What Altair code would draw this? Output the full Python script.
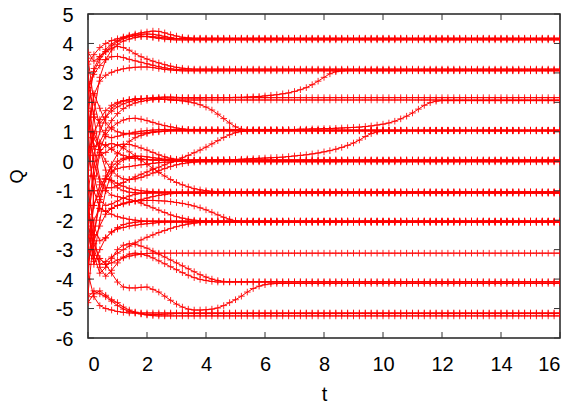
import altair as alt
import pandas as pd

# sample grid of the trajectories (markers every 0.2 in t)
t_step = 0.2
n_pts = 81
t_grid = [round(i * t_step, 1) for i in range(n_pts)]

x_ticks = [0, 2, 4, 6, 8, 10, 12, 14, 16]
y_ticks = [-6, -5, -4, -3, -2, -1, 0, 1, 2, 3, 4, 5]

# Q values at t = 0, 0.2, 0.4, ... ; each series then stays on its last value
A1 = [3.3, 3.62, 3.86, 4.0, 4.1, 4.16, 4.22, 4.28, 4.32, 4.36, 4.39, 4.42, 4.41, 4.36, 4.3, 4.25, 4.21, 4.19, 4.18]
A2 = [2.5, 3.05, 3.45, 3.72, 3.92, 4.06, 4.16, 4.23, 4.28, 4.31, 4.32, 4.31, 4.28, 4.24, 4.2, 4.17, 4.16, 4.15]
A3 = [1.8, 3.15, 3.55, 3.8, 3.98, 4.1, 4.19, 4.24, 4.26, 4.25, 4.23, 4.2, 4.17, 4.15, 4.13, 4.12]
A4 = [-0.5, 1.6, 2.85, 3.45, 3.78, 3.97, 4.08, 4.15, 4.2, 4.23, 4.24, 4.23, 4.21, 4.19, 4.17, 4.16]

B1 = [3.7, 3.4, 3.55, 3.72, 3.84, 3.9, 3.86, 3.77, 3.65, 3.55, 3.47, 3.4, 3.34, 3.28, 3.23, 3.19, 3.16, 3.14, 3.13]
B2 = [2.4, 2.95, 3.25, 3.45, 3.55, 3.56, 3.52, 3.46, 3.41, 3.36, 3.31, 3.26, 3.21, 3.17, 3.14, 3.12, 3.11, 3.1]
B3 = [1.0, 2.25, 2.72, 2.92, 3.02, 3.09, 3.14, 3.17, 3.19, 3.2, 3.2, 3.18, 3.15, 3.12, 3.1, 3.08, 3.07]

C1 = [2.7, 1.5, 1.3, 1.5, 1.7, 1.85, 1.95, 2.02, 2.07, 2.11, 2.14, 2.16, 2.17, 2.18, 2.18, 2.17, 2.16]
C2 = [1.7, 0.5, 0.65, 1.05, 1.38, 1.62, 1.79, 1.9, 1.98, 2.03, 2.07, 2.09, 2.1, 2.1, 2.09, 2.08]
C3 = [0.3, 0.95, 1.42, 1.72, 1.9, 2.0, 2.06, 2.09, 2.11, 2.12, 2.13, 2.14, 2.14, 2.15, 2.15, 2.15,
      2.15, 2.15, 2.15, 2.15, 2.16, 2.16, 2.16, 2.16, 2.16, 2.17, 2.17, 2.18, 2.19, 2.2, 2.22,
      2.24, 2.26, 2.29, 2.32, 2.37, 2.43, 2.5, 2.6, 2.72, 2.85, 2.97, 3.04, 3.07, 3.08]
C4 = [-1.0, 0.2, 1.0, 1.5, 1.8, 1.95, 2.04, 2.09, 2.12, 2.13, 2.13, 2.12, 2.11, 2.1, 2.08, 2.07,
      2.05, 2.02, 1.98, 1.92, 1.84, 1.74, 1.6, 1.45, 1.3, 1.17, 1.09, 1.06, 1.05]

D1 = [-2.0, -0.5, 0.4, 0.9, 1.15, 1.3, 1.4, 1.45, 1.46, 1.43, 1.38, 1.32, 1.26, 1.21, 1.17, 1.13, 1.1, 1.08, 1.07, 1.06]
D2 = [0.8, 2.3, 1.8, 1.3, 1.1, 1.0, 0.95, 0.93, 0.93, 0.95, 0.97, 1.0, 1.02, 1.03, 1.04]
D3 = [-3.5, -2.5, -1.4, -0.6, -0.1, 0.25, 0.5, 0.68, 0.8, 0.88, 0.94, 0.98, 1.0, 1.02, 1.03]
D4 = [2.5, 0.5, -0.6, -0.9, -0.9, -0.82, -0.72, -0.62, -0.53, -0.44, -0.36, -0.28, -0.2, -0.12, -0.04, 0.04,
      0.12, 0.2, 0.29, 0.38, 0.48, 0.59, 0.7, 0.81, 0.9, 0.97, 1.01, 1.03, 1.04]
D5 = [-1.8, -0.2, 0.6, 0.55, 0.4, 0.28, 0.2, 0.14, 0.1, 0.07, 0.05, 0.04, 0.03, 0.03, 0.03, 0.03,
      0.03, 0.03, 0.03, 0.04, 0.04, 0.04, 0.05, 0.05, 0.06, 0.06, 0.07, 0.08, 0.09, 0.1, 0.11,
      0.12, 0.13, 0.14, 0.16, 0.18, 0.2, 0.22, 0.25, 0.28, 0.32, 0.36, 0.41, 0.47, 0.54, 0.62,
      0.72, 0.84, 0.94, 1.0, 1.03, 1.04]
D6 = ([3.5, 2.0, 1.2, 0.85, 0.8, 0.85, 0.9, 0.95, 0.99, 1.02, 1.04, 1.06, 1.07, 1.08]
      + [1.08] * 22
      + [1.09, 1.09, 1.1, 1.1, 1.11, 1.11, 1.12, 1.13, 1.14, 1.15, 1.16, 1.18, 1.2, 1.23, 1.26,
         1.3, 1.36, 1.44, 1.53, 1.64, 1.77, 1.9, 1.99, 2.04, 2.06])

E1 = [1.2, -1.5, -1.0, -0.5, -0.2, 0.0, 0.1, 0.15, 0.17, 0.17, 0.15, 0.12, 0.1, 0.07, 0.05, 0.03, 0.02]
E2 = [-4.5, -2.5, -1.2, -0.6, -0.35, -0.25, -0.2, -0.18, -0.15, -0.12, -0.1, -0.07, -0.05, -0.03, -0.02, -0.01, 0.0]
E3 = [3.0, 1.5, 0.2, 0.3, 0.45, 0.55, 0.58, 0.57, 0.52, 0.45, 0.38, 0.3, 0.22, 0.15, 0.1, 0.07, 0.05, 0.03]
E4 = [0.2, 0.8, 0.4, 0.0, -0.3, -0.5, -0.6, -0.62, -0.6, -0.55, -0.48, -0.4, -0.32, -0.25, -0.18, -0.12, -0.08, -0.05, -0.03, -0.02]
E5 = [-2.5, -3.3, -2.0, -1.0, -0.4, -0.1, 0.05, 0.1, 0.1, 0.08, 0.06, 0.05]

F1 = [-0.3, 1.0, 0.4, -0.3, -0.7, -0.9, -1.0, -1.05, -1.07, -1.08]
F2 = [-3.0, -1.5, -0.8, -0.6, -0.65, -0.75, -0.85, -0.92, -0.97, -1.0, -1.02, -1.03, -1.04]
F3 = [-1.5, -2.7, -2.2, -1.8, -1.6, -1.5, -1.45, -1.4, -1.35, -1.3, -1.25, -1.2, -1.16, -1.13, -1.1, -1.09, -1.08]
F4 = [2.0, -0.5, -1.3, -1.5, -1.45, -1.35, -1.25, -1.18, -1.12, -1.09, -1.07, -1.06]
F5 = [-4.0, -1.0, 0.3, 0.55, 0.6, 0.55, 0.45, 0.32, 0.18, 0.04, -0.1, -0.24, -0.38, -0.5, -0.62, -0.72,
      -0.8, -0.87, -0.93, -0.97, -1.0, -1.02, -1.03, -1.04]

G1 = [0.5, -1.0, -1.6, -1.7, -1.6, -1.5, -1.42, -1.38, -1.35, -1.34, -1.33, -1.33, -1.34, -1.35, -1.37, -1.4,
      -1.43, -1.47, -1.52, -1.58, -1.65, -1.73, -1.82, -1.9, -1.97, -2.02, -2.05, -2.06]
G2 = [-2.0, -3.5, -3.0, -2.6, -2.4, -2.3, -2.25, -2.2, -2.17, -2.14, -2.12, -2.1, -2.08, -2.07]
G3 = [-1.0, -2.2, -2.7, -2.6, -2.4, -2.25, -2.15, -2.1, -2.07, -2.05, -2.04]
G4 = [-3.5, -2.0, -1.6, -1.7, -1.8, -1.88, -1.93, -1.97, -2.0, -2.02, -2.03]
G5 = [1.5, 0.0, -0.7, -1.0, -1.15, -1.2, -1.25, -1.3, -1.35, -1.42, -1.5, -1.58, -1.66, -1.74, -1.82, -1.88,
      -1.93, -1.97, -2.0, -2.02, -2.03]
G6 = [-1.5, -3.0, -3.5, -3.4, -3.25, -3.12, -3.0, -2.88, -2.77, -2.67, -2.58, -2.5, -2.42, -2.35, -2.28, -2.22,
      -2.17, -2.13, -2.1, -2.08, -2.07]

H1 = [-2.2, -2.8, -3.3, -3.5, -3.45, -3.35, -3.28, -3.22, -3.18, -3.15, -3.13, -3.12]

I1 = [-1.5, -3.2, -3.8, -3.6, -3.3, -3.0, -2.85, -2.8, -2.82, -2.88, -2.95, -3.05, -3.15, -3.25, -3.35, -3.45,
      -3.55, -3.65, -3.75, -3.85, -3.93, -4.0, -4.05, -4.08, -4.09]
I2 = [-0.5, -2.5, -3.6, -3.9, -3.7, -3.45, -3.25, -3.15, -3.12, -3.14, -3.2, -3.28, -3.38, -3.48, -3.58, -3.68,
      -3.78, -3.87, -3.95, -4.01, -4.05, -4.08, -4.1]
I3 = [-3.0, -3.4, -3.3, -3.5, -3.8, -4.1, -4.27, -4.3, -4.3, -4.28, -4.27, -4.35, -4.44, -4.58, -4.72, -4.85,
      -4.95, -5.02, -5.05, -5.05, -5.04, -5.02, -4.98, -4.9, -4.8, -4.7, -4.58, -4.44, -4.32, -4.24, -4.19,
      -4.16, -4.15]

J1 = [-4.6, -4.4, -4.5, -4.6, -4.75, -4.9, -5.02, -5.1, -5.15, -5.18, -5.2, -5.2, -5.2, -5.19, -5.18, -5.17]
J2 = [-4.8, -4.5, -4.4, -4.55, -4.7, -4.8, -4.95, -5.05, -5.12, -5.18, -5.22, -5.24, -5.25, -5.25]
J3 = [-3.8, -4.6, -4.9, -5.0, -5.05, -5.1, -5.13, -5.15, -5.15]

series = {
    "A1": A1, "A2": A2, "A3": A3, "A4": A4,
    "B1": B1, "B2": B2, "B3": B3,
    "C1": C1, "C2": C2, "C3": C3, "C4": C4,
    "D1": D1, "D2": D2, "D3": D3, "D4": D4, "D5": D5, "D6": D6,
    "E1": E1, "E2": E2, "E3": E3, "E4": E4, "E5": E5,
    "F1": F1, "F2": F2, "F3": F3, "F4": F4, "F5": F5,
    "G1": G1, "G2": G2, "G3": G3, "G4": G4, "G5": G5, "G6": G6,
    "H1": H1,
    "I1": I1, "I2": I2, "I3": I3,
    "J1": J1, "J2": J2, "J3": J3,
}

rows = []
for name, vals in series.items():
    full = list(vals) + [vals[-1]] * (n_pts - len(vals))
    for t, q in zip(t_grid, full):
        rows.append({"curve": name, "t": t, "Q": q})
df = pd.DataFrame(rows)

W, H = 472, 324
FONT = "Liberation Sans"

xscale = alt.Scale(domain=[0, 16], nice=False, zero=False)
yscale = alt.Scale(domain=[-6, 5], nice=False, zero=False)

x_axis = alt.Axis(values=x_ticks, ticks=False, tickSize=0, domain=False, grid=False,
                  labelExpr="'' + datum.value",
                  labelFont=FONT, labelFontSize=20, labelColor="black", labelPadding=16,
                  titleFont=FONT, titleFontSize=20, titleFontWeight="normal", titleColor="black",
                  titleBaseline="middle", titleX=W / 2, titleY=56)
y_axis = alt.Axis(values=y_ticks, ticks=False, tickSize=0, domain=False, grid=False,
                  labelExpr="'' + datum.value",
                  labelFont=FONT, labelFontSize=20, labelColor="black", labelPadding=15,
                  labelOffset=1,
                  titleFont=FONT, titleFontSize=18, titleFontWeight="normal", titleColor="black",
                  titleAngle=-90, titleBaseline="middle", titleAlign="center",
                  titleX=-71, titleY=H / 2)

x_enc = alt.X("t:Q", scale=xscale, title="t", axis=x_axis)
y_enc = alt.Y("Q:Q", scale=yscale, title="Q", axis=y_axis)

base = alt.Chart(df)
lines = base.mark_line(color="#ff0000", strokeWidth=1, clip=True).encode(
    x=x_enc, y=y_enc, detail="curve:N")
points = base.mark_point(shape="M-1,0L1,0M0,-1L0,1", size=44, color="#ff0000",
                         strokeWidth=1, filled=False, opacity=0.85, clip=True).encode(
    x=x_enc, y=y_enc)

xt = pd.DataFrame({"t": x_ticks})
yt = pd.DataFrame({"Q": y_ticks})
tick_color = "#333333"
xt_bottom = alt.Chart(xt).mark_rule(color=tick_color, strokeWidth=1).encode(
    x=x_enc, y=alt.value(H), y2=alt.value(H - 6))
xt_top = alt.Chart(xt).mark_rule(color=tick_color, strokeWidth=1).encode(
    x=x_enc, y=alt.value(0), y2=alt.value(6))
yt_left = alt.Chart(yt).mark_rule(color=tick_color, strokeWidth=1).encode(
    y=y_enc, x=alt.value(0), x2=alt.value(6))
yt_right = alt.Chart(yt).mark_rule(color=tick_color, strokeWidth=1).encode(
    y=y_enc, x=alt.value(W - 6), x2=alt.value(W))

chart = alt.layer(lines, points, xt_bottom, xt_top, yt_left, yt_right).properties(
    width=W, height=H,
    autosize=alt.AutoSizeParams(type="none"),
    padding={"left": 80, "top": 6, "right": 10, "bottom": 66},
    background="white",
).configure_view(stroke="#222222", strokeWidth=1.5)

chart.save("out.html", embed_options={"renderer": "svg", "actions": False})
